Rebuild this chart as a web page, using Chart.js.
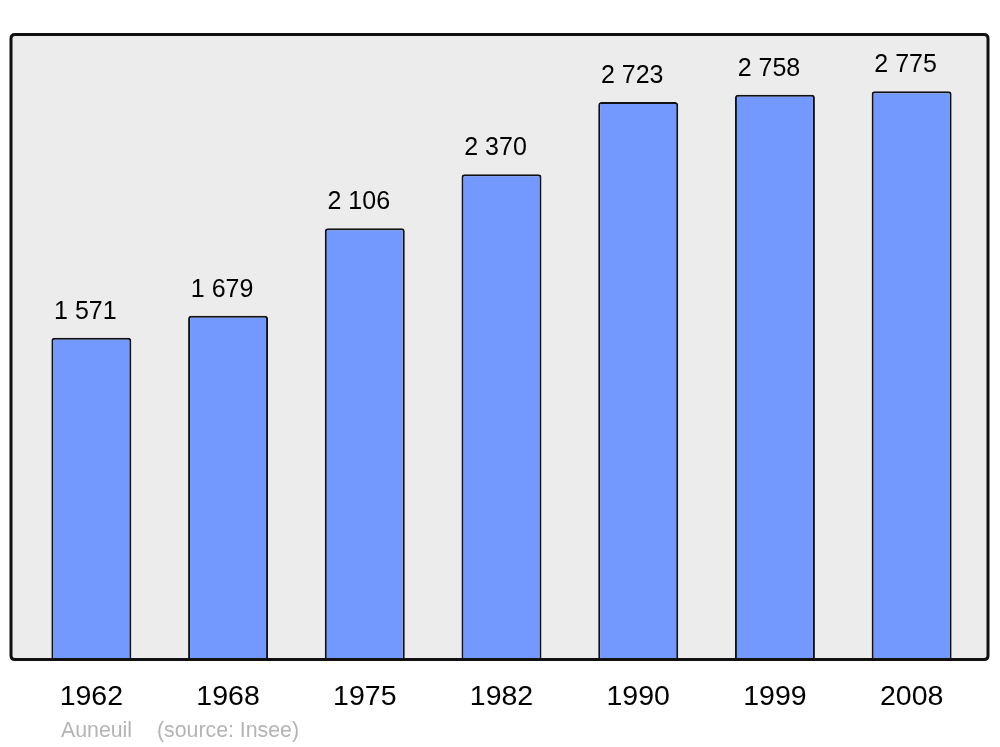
<!DOCTYPE html>
<html>
<head>
<meta charset="utf-8">
<script src="https://cdn.jsdelivr.net/npm/chart.js@4.4.1/dist/chart.umd.min.js"></script>
<style>
html,body{margin:0;padding:0;background:#fff;}
#wrap{width:1000px;height:747px;}
</style>
</head>
<body>
<div id="wrap"><canvas id="c" width="1000" height="747"></canvas></div>
<script>
const years = ['1962','1968','1975','1982','1990','1999','2008'];
const population = [1571, 1679, 2106, 2370, 2723, 2758, 2775];
const commune = 'Auneuil';
const source = '(source: Insee)';

function fmt(v){ return String(v).replace(/\B(?=(\d{3})+(?!\d))/g, '\u00a0'); }

function rr(ctx,x,y,w,h,r){
  ctx.beginPath();
  ctx.moveTo(x+r,y);
  ctx.lineTo(x+w-r,y); ctx.quadraticCurveTo(x+w,y,x+w,y+r);
  ctx.lineTo(x+w,y+h-r); ctx.quadraticCurveTo(x+w,y+h,x+w-r,y+h);
  ctx.lineTo(x+r,y+h); ctx.quadraticCurveTo(x,y+h,x,y+h-r);
  ctx.lineTo(x,y+r); ctx.quadraticCurveTo(x,y,x+r,y);
  ctx.closePath();
}

const framePlugin = {
  id:'frame',
  beforeDatasetsDraw(chart){
    const ctx = chart.ctx, a = chart.chartArea;
    ctx.save();
    rr(ctx, 11, 34.5, 977, a.bottom - 34.5, 4);
    ctx.fillStyle = '#ececec';
    ctx.fill();
    ctx.restore();
  },
  afterDatasetsDraw(chart){
    const ctx = chart.ctx, a = chart.chartArea;
    ctx.save();
    rr(ctx, 11, 34.5, 977, a.bottom - 34.5, 4);
    ctx.lineWidth = 3;
    ctx.strokeStyle = '#111';
    ctx.stroke();
    // value labels
    const meta = chart.getDatasetMeta(0);
    ctx.fillStyle = '#000';
    ctx.font = '25px "Liberation Sans", Arial, sans-serif';
    ctx.textAlign = 'center';
    ctx.textBaseline = 'alphabetic';
    meta.data.forEach((bar,i)=>{
      ctx.fillText(fmt(population[i]), bar.x - 6, bar.y - 19);
    });
    // footer
    ctx.fillStyle = '#b4b4b4';
    ctx.font = '21.3px "Liberation Sans", Arial, sans-serif';
    ctx.textAlign = 'left';
    ctx.fillText(commune, 61, 737);
    ctx.fillText(source, 157, 737);
    ctx.restore();
  }
};

new Chart(document.getElementById('c'), {
  type:'bar',
  data:{
    labels: years,
    datasets:[{
      data: population,
      backgroundColor:'#7399ff',
      borderColor:'#111',
      borderWidth:2,
      borderSkipped:'bottom',
      borderRadius:{topLeft:3, topRight:3, bottomLeft:0, bottomRight:0},
      barPercentage:0.585,
      categoryPercentage:1.0
    }]
  },
  options:{
    responsive:false,
    animation:false,
    events:[],
    layout:{padding:{left:23, right:20, top:34.5, bottom:27.5}},
    plugins:{legend:{display:false}, tooltip:{enabled:false}, title:{display:false}},
    scales:{
      x:{
        grid:{display:false, drawTicks:false},
        border:{display:false},
        ticks:{color:'#000', font:{family:'"Liberation Sans", Arial, sans-serif', size:28.5}, padding:21, maxRotation:0, autoSkip:false},
        afterFit(s){ s.height = 60; }
      },
      y:{display:false, min:0, max:3052.5}
    }
  },
  plugins:[framePlugin]
});
</script>
</body>
</html>
